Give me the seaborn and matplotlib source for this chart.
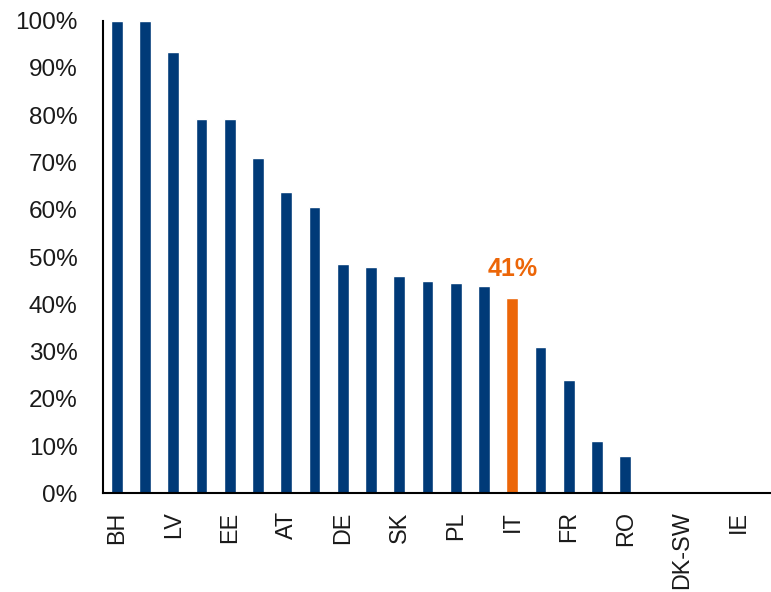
import matplotlib
matplotlib.use("Agg")
import matplotlib.pyplot as plt
from matplotlib.ticker import PercentFormatter
import seaborn as sns
import pandas as pd

# Share per country (%), sorted descending; only every other country is labelled
tick_labels = ["BH", "", "LV", "", "EE", "", "AT", "", "DE", "", "SK", "",
               "PL", "", "IT", "", "FR", "", "RO", "", "DK-SW", "", "IE"]
values = [100, 100, 93.3, 79.3, 79.1, 70.9, 63.7, 60.6, 48.5, 47.8, 45.9, 45.0,
          44.4, 43.9, 41.3, 31.0, 24.0, 11.0, 8.0, 0, 0, 0, 0]
highlight = "IT"
highlight_label = "41%"

NAVY = "#003A78"
ORANGE = "#EC6608"

positions = list(range(len(values)))
df = pd.DataFrame({"pos": positions, "share": [v / 100 for v in values]})
hl_index = tick_labels.index(highlight)
colors = [ORANGE if i == hl_index else NAVY for i in positions]

sns.set_theme(style="white")
plt.rcParams["font.family"] = ["Liberation Sans", "DejaVu Sans"]

fig = plt.figure(figsize=(7.71, 5.92), dpi=100)
ax = fig.add_axes([0.1332, 0.1667, 0.8668, 0.7983])

sns.barplot(data=df, x="pos", y="share", hue="pos", palette=colors,
            width=0.42, saturation=1, legend=False, ax=ax)

ax.set_ylim(0, 1)
ax.set_xlim(-0.5, 23.16)
ax.yaxis.set_major_formatter(PercentFormatter(1.0, decimals=0))
ax.set_yticks([i / 10 for i in range(11)])
ax.set_xticks(positions)
ax.set_xticklabels(tick_labels, rotation=90)
ax.tick_params(axis="both", length=0, colors="#1a1a1a")
ax.tick_params(axis="y", pad=18, labelsize=17.5)
ax.tick_params(axis="x", pad=13, labelsize=16.8)
ax.set_xlabel("")
ax.set_ylabel("")

for side in ("top", "right"):
    ax.spines[side].set_visible(False)
for side in ("left", "bottom"):
    ax.spines[side].set_color("black")
    ax.spines[side].set_linewidth(1.5)

ax.annotate(highlight_label, xy=(hl_index, values[hl_index] / 100),
            xytext=(0, 12), textcoords="offset points", ha="center", va="bottom",
            color=ORANGE, fontsize=18, fontweight="bold")

fig.savefig("out.png", dpi=100)
